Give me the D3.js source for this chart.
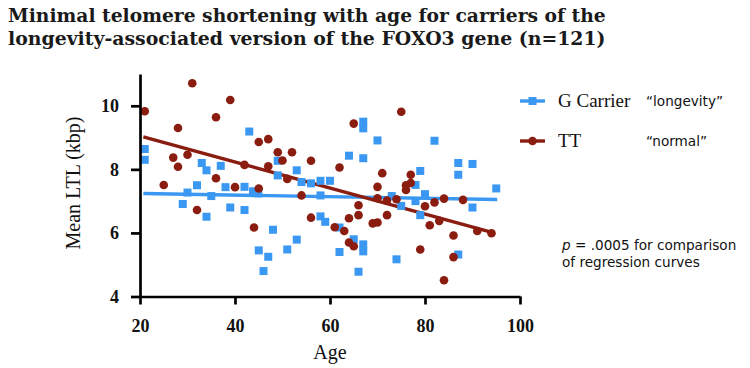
<!DOCTYPE html>
<html>
<head>
<meta charset="utf-8">
<script src="https://cdn.jsdelivr.net/npm/d3@7"></script>
<style>
  html, body { margin: 0; padding: 0; background: #fff; }
  svg { display: block; }
</style>
</head>
<body>
<svg id="chart" width="750" height="368"></svg>
<script>
// ---------- data ----------
const titleLines = [
  "Minimal telomere shortening with age for carriers of the",
  "longevity-associated version of the FOXO3 gene (n=121)"
];
const xTicks = [20, 40, 60, 80, 100];
const yTicks = [4, 6, 8, 10];
const xLabel = "Age";
const yLabel = "Mean LTL (kbp)";

// G carrier ("longevity") : [age, LTL]
const carrierAge = [21,21,29,30,32,33,34,34,35,37,38,39,42,42,43,43.8,44.9,45,46,47,48,49,49,51,53,53,54,56,58,58,58,59,60,62,62,64,65,66,67,67,67,67,67,70,73,74,75,78,78,79,79,80,82,87,87,87,90,90,95];
const carrierLTL = [8.64,8.30,6.91,7.27,7.50,8.20,7.97,6.51,7.16,8.11,7.44,6.80,7.45,6.72,9.19,7.31,7.24,5.45,4.80,5.25,6.10,8.27,7.81,5.48,7.97,5.79,7.60,7.56,7.64,7.18,6.52,6.35,7.64,6.17,5.40,8.43,5.80,4.78,9.50,9.29,8.35,5.64,5.42,8.91,7.16,5.17,6.85,7.51,7.00,7.95,6.56,7.22,8.90,8.20,7.83,5.32,8.17,6.80,7.40];

// TT ("normal") : [age, LTL]
const ttAge = [21,25,27,28,28,30,31,32,36,36,39,40,42,44,45,45,47,47,49,50,51,52,54,56,56,61,62,63,64,64,65,65,66,66,69,70,70,70,71,72,72,74,75,76,76,77,77,79,80,81,82,83,84,84,86,86,88,91,94];
const ttLTL = [9.83,7.51,8.37,9.30,8.08,8.46,10.71,6.72,9.64,7.72,10.18,7.44,8.14,6.17,8.86,7.40,8.95,8.10,8.54,8.28,7.70,8.54,7.18,8.27,6.48,6.18,8.06,6.06,6.46,5.70,9.44,5.58,6.87,6.56,6.30,6.33,7.45,7.09,7.88,7.02,6.56,7.06,9.81,7.50,7.35,7.83,7.57,5.48,6.84,6.24,6.96,6.38,7.08,4.51,5.92,5.24,7.04,6.06,5.99];

// regression line end points
const carrierFitAge = [20.7, 95.2];
const carrierFitLTL = [7.24, 7.05];
const ttFitAge = [20.7, 94.3];
const ttFitLTL = [9.02, 6.01];

const seriesNames = ["G Carrier", "TT"];
const seriesNotes = ["\u201Clongevity\u201D", "\u201Cnormal\u201D"];
const pNote = [".0005 for comparison", "of regression curves"];

// ---------- drawing ----------
const BLUE = "#3a98f2";
const RED = "#8a1d10";
const svg = d3.select("#chart");

const x = d3.scaleLinear().domain([20, 100]).range([140, 520]);
const y = d3.scaleLinear().domain([4, 11]).range([296.5, 74]);

// title
const title = svg.append("g");
titleLines.forEach((t, i) => {
  const tx = title.append("text")
    .attr("x", 8).attr("y", 22 + i * 23)
    .attr("font-family", "'DejaVu Serif', serif")
    .attr("font-weight", "bold")
    .attr("font-size", 20)
    .attr("fill", "#1a1a1a")
    .text(t);
  const w = tx.node().getComputedTextLength();
  tx.attr("font-size", 20 * 598 / w);
});

// regression lines
const line = d3.line().x(d => x(d[0])).y(d => y(d[1]));
svg.append("path")
  .datum(carrierFitAge.map((a, i) => [a, carrierFitLTL[i]]))
  .attr("d", line).attr("stroke", BLUE).attr("stroke-width", 3.4).attr("fill", "none");
svg.append("path")
  .datum(ttFitAge.map((a, i) => [a, ttFitLTL[i]]))
  .attr("d", line).attr("stroke", RED).attr("stroke-width", 3.4).attr("fill", "none");

// points
const sq = 8;
svg.append("g").selectAll("rect")
  .data(carrierAge.map((a, i) => [a, carrierLTL[i]]))
  .join("rect")
  .attr("x", d => x(d[0]) - sq / 2).attr("y", d => y(d[1]) - sq / 2)
  .attr("width", sq).attr("height", sq).attr("fill", BLUE);
svg.append("g").selectAll("circle")
  .data(ttAge.map((a, i) => [a, ttLTL[i]]))
  .join("circle")
  .attr("cx", d => x(d[0])).attr("cy", d => y(d[1]))
  .attr("r", 4.3).attr("fill", RED);

// axes
const axisFont = "'Liberation Serif', 'Times New Roman', serif";
const xAxis = svg.append("g").attr("transform", "translate(0,296.5)")
  .call(d3.axisBottom(x).tickValues(xTicks).tickFormat(d3.format("d"))
    .tickSize(8).tickSizeOuter(0).tickPadding(15));
const yAxis = svg.append("g").attr("transform", "translate(140,0)")
  .call(d3.axisLeft(y).tickValues(yTicks).tickFormat(d3.format("d"))
    .tickSize(9).tickSizeOuter(0).tickPadding(12));
[xAxis, yAxis].forEach(g => {
  g.select(".domain").attr("stroke", "#000").attr("stroke-width", 2.7);
  g.selectAll(".tick line").attr("stroke", "#000").attr("stroke-width", 2.7);
  g.selectAll(".tick text").attr("font-family", axisFont).attr("font-size", 18)
    .attr("fill", "#111").attr("font-weight", "bold");
});

svg.append("text")
  .attr("x", 330).attr("y", 359)
  .attr("text-anchor", "middle")
  .attr("font-family", axisFont).attr("font-size", 20).attr("fill", "#111")
  .text(xLabel);
svg.append("text")
  .attr("transform", "translate(80,183) rotate(-90)")
  .attr("text-anchor", "middle")
  .attr("font-family", axisFont).attr("font-size", 20).attr("fill", "#111")
  .text(yLabel);

// legend
const legend = svg.append("g");
const legendY = [101, 141];
[BLUE, RED].forEach((c, i) => {
  legend.append("line")
    .attr("x1", 520).attr("x2", 545).attr("y1", legendY[i]).attr("y2", legendY[i])
    .attr("stroke", c).attr("stroke-width", 3.4);
  if (i === 0) {
    legend.append("rect").attr("x", 532.5 - 4).attr("y", legendY[i] - 4)
      .attr("width", 8).attr("height", 8).attr("fill", c);
  } else {
    legend.append("circle").attr("cx", 532.5).attr("cy", legendY[i]).attr("r", 4.3).attr("fill", c);
  }
  legend.append("text")
    .attr("x", 558).attr("y", legendY[i] + 6)
    .attr("font-family", axisFont).attr("font-size", 19).attr("fill", "#111")
    .text(seriesNames[i]);
  legend.append("text")
    .attr("x", 646).attr("y", legendY[i] + 5)
    .attr("font-family", "'DejaVu Sans', Verdana, sans-serif").attr("font-size", 13.6).attr("fill", "#111")
    .text(seriesNotes[i]);
});

// p-value note
const note = svg.append("g")
  .attr("font-family", "'DejaVu Sans', Verdana, sans-serif").attr("font-size", 13.6).attr("fill", "#111");
const l1 = note.append("text").attr("x", 562).attr("y", 250);
l1.append("tspan").attr("font-style", "italic").text("p");
l1.append("tspan").text(" = " + pNote[0]);
note.append("text").attr("x", 562).attr("y", 267).text(pNote[1]);
</script>
</body>
</html>
